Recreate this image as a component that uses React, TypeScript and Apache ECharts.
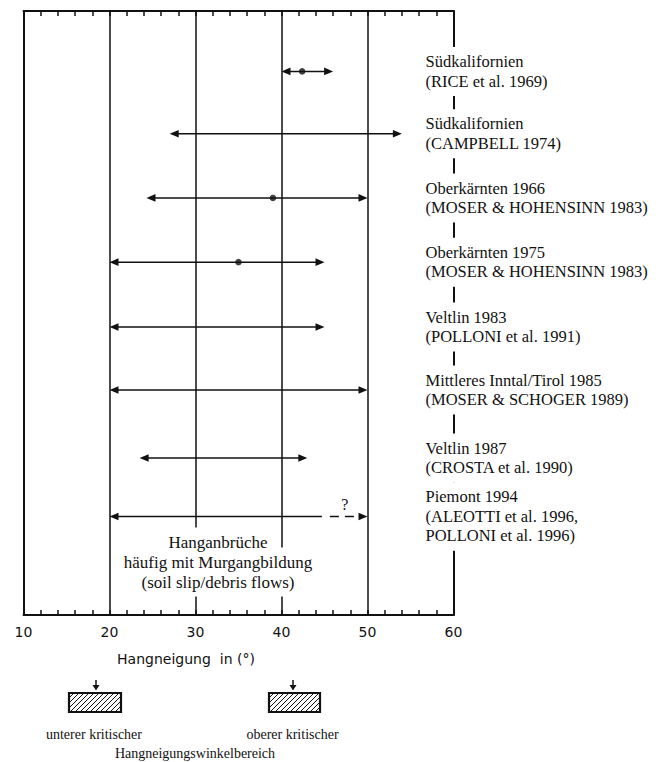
import React, { useEffect, useRef } from 'react';
import * as echarts from 'echarts';

// ---- data ----
const regions = [
  'Südkalifornien',
  'Südkalifornien',
  'Oberkärnten 1966',
  'Oberkärnten 1975',
  'Veltlin 1983',
  'Mittleres Inntal/Tirol 1985',
  'Veltlin 1987',
  'Piemont 1994',
];
const sources = [
  '(RICE et al. 1969)',
  '(CAMPBELL 1974)',
  '(MOSER & HOHENSINN 1983)',
  '(MOSER & HOHENSINN 1983)',
  '(POLLONI et al. 1991)',
  '(MOSER & SCHOGER 1989)',
  '(CROSTA et al. 1990)',
  '(ALEOTTI et al. 1996,\nPOLLONI et al. 1996)',
];
const rowPos = [0.95, 1.93, 2.94, 3.95, 4.97, 5.96, 7.03, 7.95];
const minAngle = [40, 27, 24.3, 20, 20, 20, 23.5, 20];
const maxAngle = [46, 54, 50, 45, 45, 50, 43, 50];
const certainMax = [46, 54, 50, 45, 45, 50, 43, 44.7];
const meanAngle: (number | null)[] = [42.4, null, 39, 35, null, null, null, null];
const rowNotes = ['', '', '', '', '', '', '', '?'];

const xMin = 10;
const xMax = 60;
const xStep = 10;
const axisTitle = 'Hangneigung  in (°)';
const plotNote = ['Hanganbrüche', 'häufig mit Murgangbildung', '(soil slip/debris flows)'];
const criticalLabels = ['unterer kritischer', 'oberer kritischer'];
const criticalCaption = 'Hangneigungswinkelbereich';

const ink = '#111';
const serif = '"Liberation Serif", "Times New Roman", serif';
const sans = '"DejaVu Sans", sans-serif';

function hatchBox(x0: number, y0: number, w: number, h: number, arrowX: number) {
  const els: any[] = [];
  const step = 5;
  for (let k = -h; k < w; k += step) {
    const s0 = Math.max(0, -k);
    const s1 = Math.min(h, w - k);
    if (s1 <= s0) continue;
    els.push({
      type: 'line',
      z: 10,
      shape: { x1: x0 + k + s0, y1: y0 + h - s0, x2: x0 + k + s1, y2: y0 + h - s1 },
      style: { stroke: ink, lineWidth: 1 },
    });
  }
  els.push({
    type: 'rect',
    z: 11,
    shape: { x: x0, y: y0, width: w, height: h },
    style: { fill: 'none', stroke: ink, lineWidth: 2.2 },
  });
  els.push({
    type: 'line',
    z: 10,
    shape: { x1: arrowX, y1: y0 - 13, x2: arrowX, y2: y0 - 6 },
    style: { stroke: ink, lineWidth: 1.5 },
  });
  els.push({
    type: 'polygon',
    z: 10,
    shape: { points: [[arrowX - 3.5, y0 - 8], [arrowX + 3.5, y0 - 8], [arrowX, y0 - 2.5]] },
    style: { fill: ink },
  });
  return els;
}

export default function App() {
  const ref = useRef<HTMLDivElement>(null);

  useEffect(() => {
    if (!ref.current) return;
    const chart = echarts.init(ref.current, undefined, { renderer: 'svg' });

    const rangeData = regions.map((_, i) => [minAngle[i], maxAngle[i], rowPos[i], certainMax[i], i]);
    const meanData = meanAngle
      .map((v, i) => (v == null ? null : [v, rowPos[i]]))
      .filter((d) => d !== null);

    const xAxisBase = {
      type: 'value',
      min: xMin,
      max: xMax,
      interval: xStep,
      axisLine: { show: true, onZero: false, lineStyle: { color: ink, width: 2 } },
      axisTick: { show: true, inside: true, length: 5, lineStyle: { color: ink, width: 1.5 } },
      minorTick: { show: true, splitNumber: 5, length: 5, lineStyle: { color: ink, width: 1.5 } },
    };

    const graphics: any[] = [];
    // white masks behind the in-plot note (drawn first), then the text itself
    plotNote.forEach((t, i) => {
      graphics.push({
        type: 'text',
        z: 19,
        silent: true,
        style: {
          text: t,
          x: 218,
          y: 542 + i * 20,
          align: 'center',
          verticalAlign: 'middle',
          fontFamily: serif,
          fontSize: 17,
          fill: '#fff',
          backgroundColor: '#fff',
          padding: [6, 3],
        },
      });
    });
    plotNote.forEach((t, i) => {
      graphics.push({
        type: 'text',
        z: 20,
        style: {
          text: t,
          x: 218,
          y: 542 + i * 20,
          align: 'center',
          verticalAlign: 'middle',
          fontFamily: serif,
          fontSize: 17,
          fill: ink,
        },
      });
    });
    graphics.push(...hatchBox(69, 693, 52, 19, 96));
    graphics.push(...hatchBox(269, 693, 51, 19, 293));
    const capX = [94, 292.5];
    criticalLabels.forEach((t, i) => {
      graphics.push({
        type: 'text',
        z: 10,
        style: {
          text: t,
          x: capX[i],
          y: 734,
          align: 'center',
          verticalAlign: 'middle',
          fontFamily: serif,
          fontSize: 14,
          fill: ink,
        },
      });
    });
    graphics.push({
      type: 'text',
      z: 10,
      style: {
        text: criticalCaption,
        x: 195,
        y: 753,
        align: 'center',
        verticalAlign: 'middle',
        fontFamily: serif,
        fontSize: 14,
        fill: ink,
      },
    });

    chart.setOption({
      animation: false,
      backgroundColor: '#fff',
      grid: { left: 23.5, right: 204.5, top: 11, bottom: 147, containLabel: false },
      xAxis: [
        {
          ...xAxisBase,
          position: 'bottom',
          splitLine: { show: true, lineStyle: { color: ink, width: 1.5 } },
          axisLabel: { color: ink, fontFamily: sans, fontSize: 14, margin: 10 },
          name: axisTitle,
          nameLocation: 'middle',
          nameGap: 37,
          nameTextStyle: { color: ink, fontFamily: sans, fontSize: 14, padding: [0, 105, 0, 0] },
        },
        {
          ...xAxisBase,
          position: 'top',
          splitLine: { show: false },
          axisLabel: { show: false },
        },
      ],
      yAxis: [
        {
          type: 'value',
          min: 0,
          max: 9.5,
          inverse: true,
          position: 'left',
          axisLine: { show: true, onZero: false, lineStyle: { color: ink, width: 2 } },
          axisTick: { show: false },
          axisLabel: { show: false },
          splitLine: { show: false },
        },
        {
          type: 'value',
          min: 0,
          max: 9.5,
          inverse: true,
          position: 'right',
          axisLine: { show: true, onZero: false, lineStyle: { color: ink, width: 2 } },
          axisTick: { show: false },
          axisLabel: { show: false },
          splitLine: { show: false },
        },
      ],
      series: [
        {
          type: 'custom',
          clip: false,
          z: 5,
          data: rangeData,
          encode: { x: [0, 1, 3], y: 2 },
          renderItem: (params: any, api: any) => {
            const i = api.value(4);
            const lo = api.value(0);
            const hi = api.value(1);
            const row = api.value(2);
            const sure = api.value(3);
            const a = api.coord([lo, row]);
            const b = api.coord([hi, row]);
            const m = api.coord([sure, row]);
            const r = api.coord([xMax, row]);
            const y = a[1];
            const L = 9;
            const H = 3.8;
            const children: any[] = [];
            children.push({
              type: 'line',
              shape: { x1: a[0] + 3, y1: y, x2: sure < hi ? m[0] : b[0] - 3, y2: y },
              style: { stroke: ink, lineWidth: 1.5 },
            });
            if (sure < hi) {
              children.push({
                type: 'line',
                shape: { x1: m[0] + 8, y1: y, x2: b[0] - 6, y2: y },
                style: { stroke: ink, lineWidth: 1.5, lineDash: [9, 6] },
              });
            }
            children.push({
              type: 'polygon',
              shape: { points: [[a[0], y], [a[0] + L, y - H], [a[0] + L, y + H]] },
              style: { fill: ink },
            });
            children.push({
              type: 'polygon',
              shape: { points: [[b[0], y], [b[0] - L, y - H], [b[0] - L, y + H]] },
              style: { fill: ink },
            });
            if (rowNotes[i]) {
              children.push({
                type: 'text',
                style: {
                  text: rowNotes[i],
                  x: (m[0] + b[0]) / 2,
                  y: y - 4,
                  align: 'center',
                  verticalAlign: 'bottom',
                  fontFamily: serif,
                  fontSize: 16,
                  fill: ink,
                },
              });
            }
            children.push({
              type: 'text',
              style: {
                text: regions[i] + '\n' + sources[i],
                x: r[0] - 30,
                y,
                align: 'left',
                verticalAlign: 'middle',
                fontFamily: serif,
                fontSize: 16.5,
                lineHeight: 19.5,
                fill: ink,
                backgroundColor: '#fff',
                padding: [5, 2],
              },
            });
            return { type: 'group', children };
          },
        },
        {
          type: 'scatter',
          z: 6,
          data: meanData,
          symbol: 'circle',
          symbolSize: 6.5,
          itemStyle: { color: ink },
        },
      ],
      graphic: graphics,
    });

    return () => chart.dispose();
  }, []);

  return (
    <div
      ref={ref}
      style={{ position: 'fixed', left: 0, top: 0, width: 658, height: 762, background: '#fff' }}
    />
  );
}
